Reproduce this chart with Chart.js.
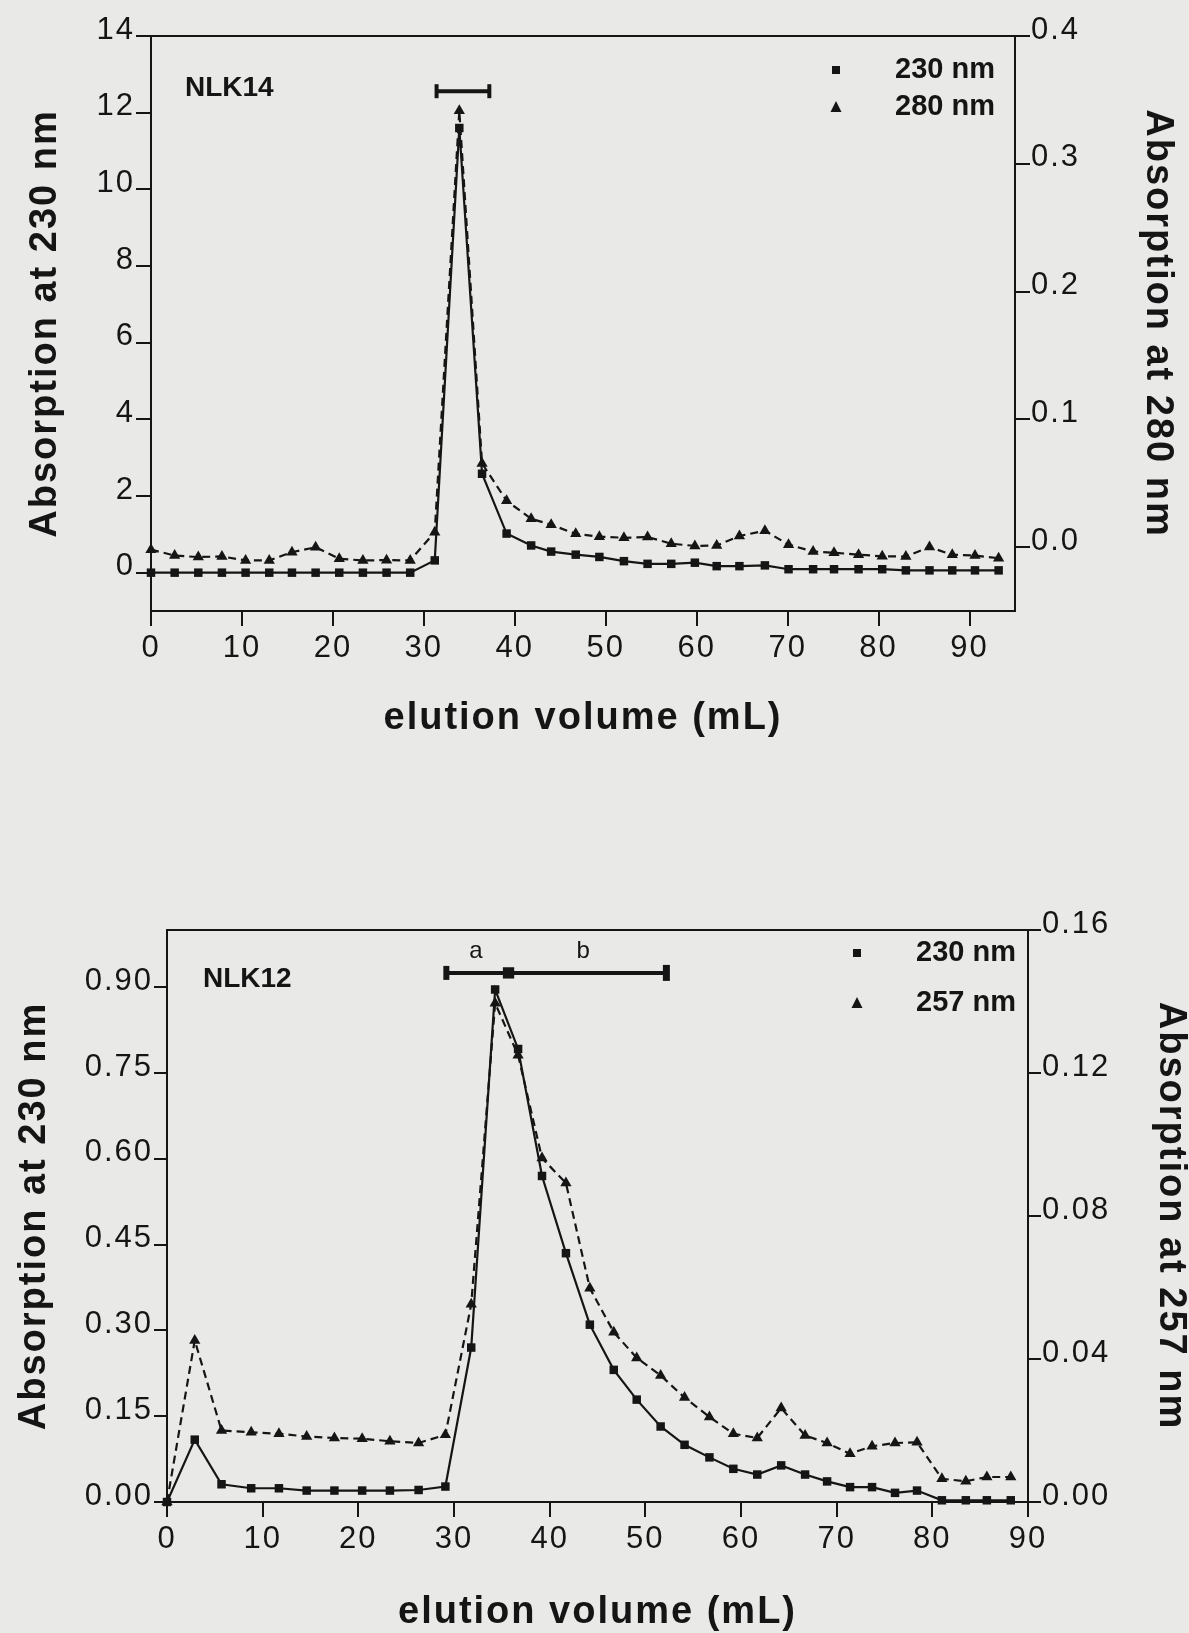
<!DOCTYPE html>
<html>
<head>
<meta charset="utf-8">
<title>Elution profiles NLK14 / NLK12</title>
<script src="https://cdn.jsdelivr.net/npm/chart.js@4"></script>
<style>
  body { margin: 0; background: #e9e9e7; }
  #page { position: relative; width: 1189px; height: 1633px; overflow: hidden; }
  canvas { position: absolute; left: 0; }
</style>
</head>
<body>
<div id="page">
  <canvas id="nlk14" width="1189" height="780" style="top:0"></canvas>
  <canvas id="nlk12" width="1189" height="853" style="top:780px"></canvas>
</div>
<script>
// NLK14 run (upper panel)
const volTop = [0, 2.6, 5.2, 7.8, 10.4, 13.0, 15.5, 18.1, 20.7, 23.3, 25.9, 28.5, 31.2, 33.9, 36.4, 39.1, 41.8, 44.0, 46.7, 49.3, 52.0, 54.6, 57.2, 59.8, 62.2, 64.7, 67.5, 70.1, 72.8, 75.1, 77.8, 80.4, 83.0, 85.6, 88.1, 90.6, 93.2];
const a230Top = [0, 0, 0, 0, 0, 0, 0, 0, 0, 0, 0, 0, 0.32, 11.6, 2.58, 1.02, 0.71, 0.55, 0.47, 0.41, 0.30, 0.23, 0.23, 0.26, 0.17, 0.17, 0.19, 0.09, 0.09, 0.09, 0.09, 0.09, 0.06, 0.06, 0.06, 0.06, 0.06];
const a280Top = [-0.002, -0.0066, -0.0078, -0.0073, -0.0104, -0.0104, -0.004, -0.0001, -0.0091, -0.0104, -0.0102, -0.0104, 0.0117, 0.3415, 0.0655, 0.0362, 0.0222, 0.0175, 0.0104, 0.0082, 0.0073, 0.0079, 0.0027, 0.0009, 0.0013, 0.0087, 0.0128, 0.0019, -0.0034, -0.0044, -0.0059, -0.0072, -0.0074, 0.0, -0.006, -0.0066, -0.0087];
const poolTop = [31.4, 37.2];
const poolTopLevel = 12.56;

// NLK12 run (lower panel)
const volBot = [0, 2.9, 5.7, 8.8, 11.7, 14.6, 17.5, 20.4, 23.3, 26.3, 29.1, 31.8, 34.3, 36.7, 39.2, 41.7, 44.2, 46.7, 49.1, 51.6, 54.1, 56.7, 59.2, 61.7, 64.2, 66.7, 69.0, 71.4, 73.7, 76.1, 78.4, 81.0, 83.5, 85.7, 88.2];
const a230Bot = [0, 0.109, 0.031, 0.024, 0.024, 0.020, 0.020, 0.020, 0.020, 0.021, 0.027, 0.270, 0.896, 0.792, 0.570, 0.435, 0.310, 0.231, 0.179, 0.132, 0.100, 0.078, 0.058, 0.048, 0.064, 0.048, 0.036, 0.026, 0.026, 0.016, 0.020, 0.003, 0.003, 0.003, 0.003];
const a257Bot = [0, 0.0452, 0.0200, 0.0195, 0.0191, 0.0183, 0.0179, 0.0177, 0.0170, 0.0165, 0.0188, 0.0553, 0.1395, 0.125, 0.0962, 0.0892, 0.0598, 0.0475, 0.0403, 0.0354, 0.0292, 0.0238, 0.0191, 0.0179, 0.0263, 0.0186, 0.0165, 0.0135, 0.0156, 0.0165, 0.0167, 0.0065, 0.0058, 0.007, 0.007];
const poolBot = [29.2, 35.7, 52.2];
const poolBotLevel = 0.925;
const poolNames = ['a', 'b'];
const poolNameVol = [32.3, 43.5];
const poolNameLevel = 0.962;

// tick labels
const volTicks = [0, 10, 20, 30, 40, 50, 60, 70, 80, 90];
const leftTicksTop = [0, 2, 4, 6, 8, 10, 12, 14];
const rightTicksTop = [0, 0.1, 0.2, 0.3, 0.4];
const leftTicksBot = [0, 0.15, 0.30, 0.45, 0.60, 0.75, 0.90];
const rightTicksBot = [0, 0.04, 0.08, 0.12, 0.16];

const ink = '#151515';
const family = "'Liberation Sans', Arial, sans-serif";
Chart.defaults.font.family = family;
Chart.defaults.color = ink;

const tickFont = { size: 31 };
const titleFont = { size: 38, weight: 'bold', lineHeight: 1 };

// helpers for scale sizing / fixed tick lists
const fixed = (size) => (s) => { if (s.isHorizontal()) s.height = size; else s.width = size; };
const useTicks = (list) => (s) => { s.ticks = list.map(v => ({ value: v })); };
const pts = (xs, ys) => xs.map((x, i) => ({ x: x, y: ys[i] }));
const flat = (xs, level) => xs.map(x => ({ x: x, y: level }));

function axis(opts) {
  return Object.assign({
    type: 'linear',
    grid: { drawOnChartArea: false, color: ink, lineWidth: 2, tickLength: 15 },
    border: { color: ink, width: 2 },
  }, opts);
}

// the scanned figure uses loosely spaced type
const spacing = {
  id: 'spacing',
  beforeDraw(chart) { chart.ctx.letterSpacing = '2px'; }
};

// panel label, legend and pool letters
const notes = {
  id: 'notes',
  afterDatasetsDraw(chart, args, o) {
    const { ctx, chartArea: area, scales } = chart;
    ctx.save();
    ctx.letterSpacing = '0px';
    ctx.fillStyle = ink;
    ctx.textBaseline = 'middle';
    ctx.textAlign = 'left';
    ctx.font = 'bold 28px ' + family;
    ctx.fillText(o.panel, area.left + o.panelAt[0], area.top + o.panelAt[1]);

    ctx.font = 'bold 29px ' + family;
    [0, 1].forEach(i => {
      const mx = area.right + o.legendAt[0];
      const my = area.top + o.legendAt[1] + i * o.legendGap;
      if (i === 0) {
        ctx.fillRect(mx - 4, my - 4, 8, 8);
      } else {
        ctx.beginPath();
        ctx.moveTo(mx, my - 6);
        ctx.lineTo(mx + 5.5, my + 5);
        ctx.lineTo(mx - 5.5, my + 5);
        ctx.closePath();
        ctx.fill();
      }
      ctx.fillText(chart.data.datasets[i].label, mx + o.textGap, my);
    });

    if (o.names) {
      ctx.font = '24px ' + family;
      ctx.textAlign = 'center';
      o.names.forEach((t, i) => {
        ctx.fillText(t, scales.x.getPixelForValue(o.namesAt[i]), scales.y.getPixelForValue(o.namesLevel));
      });
    }
    ctx.restore();
  }
};

const lineStyle = { borderColor: ink, backgroundColor: ink, pointBackgroundColor: ink, pointBorderColor: ink, pointBorderWidth: 0, borderWidth: 2.2, tension: 0, clip: false };

// upper panel: NLK14
new Chart(document.getElementById('nlk14'), {
  type: 'line',
  data: {
    datasets: [
      Object.assign({ label: '230 nm', data: pts(volTop, a230Top), yAxisID: 'y', pointStyle: 'rect', pointRadius: 6 }, lineStyle),
      Object.assign({ label: '280 nm', data: pts(volTop, a280Top), yAxisID: 'y2', pointStyle: 'triangle', pointRadius: 6.5, borderDash: [8, 5] }, lineStyle),
      Object.assign({ label: 'pool', data: flat(poolTop, poolTopLevel), yAxisID: 'y' }, lineStyle,
        { borderWidth: 4, pointStyle: 'line', rotation: 90, pointRadius: 7, pointBorderWidth: 4 })
    ]
  },
  options: {
    responsive: false, animation: false, devicePixelRatio: 1,
    layout: { padding: { top: 36, left: 0, right: 0, bottom: 0 } },
    plugins: {
      legend: { display: false }, tooltip: { enabled: false },
      notes: { panel: 'NLK14', panelAt: [34, 52], legendAt: [-179, 34], legendGap: 37, textGap: 59 }
    },
    scales: {
      x: axis({
        position: 'bottom', min: 0, max: 95,
        afterBuildTicks: useTicks(volTicks), afterFit: fixed(169),
        ticks: { font: tickFont, color: ink, padding: 4, maxRotation: 0 },
        title: { display: true, text: 'elution volume (mL)', font: titleFont, color: ink, padding: { top: 0, bottom: 42 } }
      }),
      x2: axis({
        position: 'top', grid: { display: false }, ticks: { display: false }, afterFit: fixed(0)
      }),
      y: axis({
        position: 'left', min: -1, max: 14,
        afterBuildTicks: useTicks(leftTicksTop), afterFit: fixed(151),
        grid: { drawOnChartArea: false, color: ink, lineWidth: 2, tickLength: 15 },
        ticks: { font: tickFont, color: ink, padding: 1, labelOffset: -6, callback: v => String(v) },
        title: { display: true, text: 'Absorption at 230 nm', font: titleFont, color: ink, padding: { top: 27, bottom: 0 } }
      }),
      y2: axis({
        position: 'right', min: -0.05, max: 0.4,
        afterBuildTicks: useTicks(rightTicksTop), afterFit: fixed(174),
        grid: { drawOnChartArea: false, color: ink, lineWidth: 2, tickLength: 15 },
        ticks: { font: tickFont, color: ink, padding: 1, labelOffset: -6, callback: v => v.toFixed(1) },
        title: { display: true, text: 'Absorption at 280 nm', font: titleFont, color: ink, padding: { top: 13, bottom: 0 } }
      })
    }
  },
  plugins: [spacing, notes]
});

// lower panel: NLK12
new Chart(document.getElementById('nlk12'), {
  type: 'line',
  data: {
    datasets: [
      Object.assign({ label: '230 nm', data: pts(volBot, a230Bot), yAxisID: 'y', pointStyle: 'rect', pointRadius: 6 }, lineStyle),
      Object.assign({ label: '257 nm', data: pts(volBot, a257Bot), yAxisID: 'y2', pointStyle: 'triangle', pointRadius: 6.5, borderDash: [8, 5] }, lineStyle),
      Object.assign({ label: 'pool', data: flat(poolBot, poolBotLevel), yAxisID: 'y' }, lineStyle,
        { borderWidth: 4, pointStyle: ['line', 'rect', 'line'], rotation: [90, 0, 90], pointRadius: [7, 8, 8], pointBorderWidth: [6, 0, 7] })
    ]
  },
  options: {
    responsive: false, animation: false, devicePixelRatio: 1,
    layout: { padding: { top: 150, left: 0, right: 0, bottom: 0 } },
    plugins: {
      legend: { display: false }, tooltip: { enabled: false },
      notes: {
        panel: 'NLK12', panelAt: [36, 49], legendAt: [-171, 23], legendGap: 50, textGap: 59,
        names: poolNames, namesAt: poolNameVol, namesLevel: poolNameLevel
      }
    },
    scales: {
      x: axis({
        position: 'bottom', min: 0, max: 90,
        afterBuildTicks: useTicks(volTicks), afterFit: fixed(131),
        ticks: { font: tickFont, color: ink, padding: 4, maxRotation: 0 },
        title: { display: true, text: 'elution volume (mL)', font: titleFont, color: ink, padding: { top: 0, bottom: 1 } }
      }),
      x2: axis({
        position: 'top', grid: { display: false }, ticks: { display: false }, afterFit: fixed(0)
      }),
      y: axis({
        position: 'left', min: 0, max: 1.0,
        afterBuildTicks: useTicks(leftTicksBot), afterFit: fixed(167),
        grid: { drawOnChartArea: false, color: ink, lineWidth: 2, tickLength: 13 },
        ticks: { font: tickFont, color: ink, padding: 1, labelOffset: -6, callback: v => v.toFixed(2) },
        title: { display: true, text: 'Absorption at 230 nm', font: titleFont, color: ink, padding: { top: 16, bottom: 0 } }
      }),
      y2: axis({
        position: 'right', min: 0, max: 0.16,
        afterBuildTicks: useTicks(rightTicksBot), afterFit: fixed(161),
        grid: { drawOnChartArea: false, color: ink, lineWidth: 2, tickLength: 13 },
        ticks: { font: tickFont, color: ink, padding: 1, labelOffset: -6, callback: v => v.toFixed(2) },
        title: { display: true, text: 'Absorption at 257 nm', font: titleFont, color: ink, padding: { top: 0, bottom: 0 } }
      })
    }
  },
  plugins: [spacing, notes]
});
</script>
</body>
</html>
